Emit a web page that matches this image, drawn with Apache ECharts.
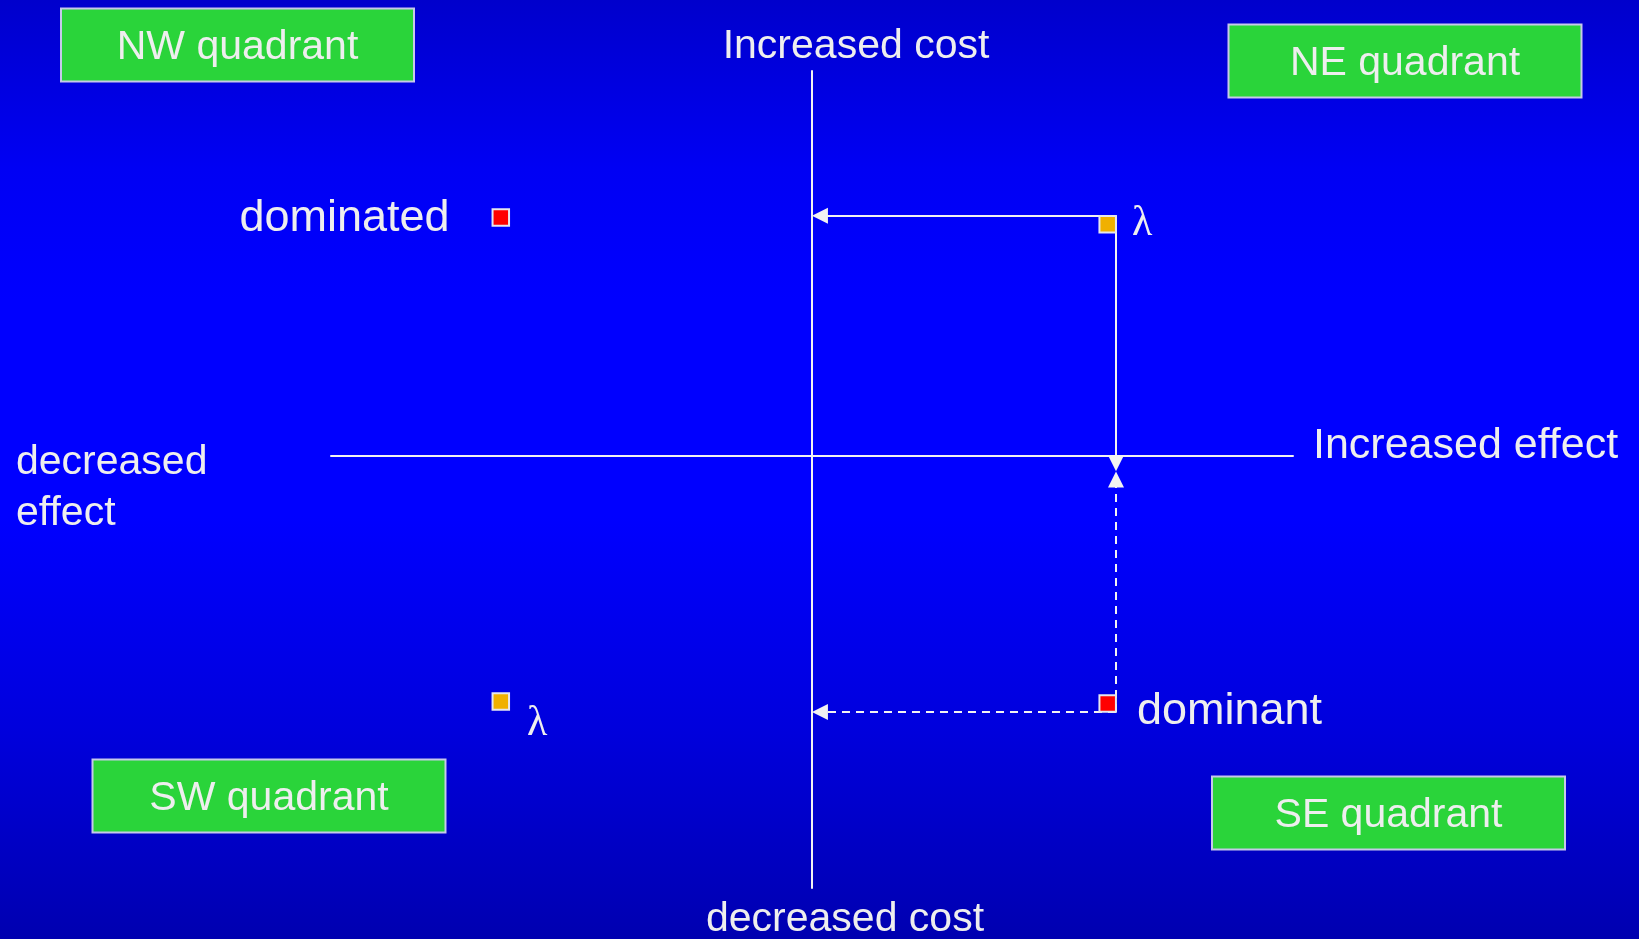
<!DOCTYPE html>
<html>
<head>
<meta charset="utf-8">
<script src="https://cdn.jsdelivr.net/npm/echarts@6/dist/echarts.min.js"></script>
<style>
  html, body { margin: 0; padding: 0; }
  #chart {
    width: 1639px; height: 939px;
    background: linear-gradient(to bottom, #0000cc 0%, #0000f4 18%, #0000ff 32%, #0000ff 55%, #0000dc 78%, #0000b0 100%);
  }
</style>
</head>
<body>
<div id="chart"></div>
<script>
// ---- data ----
const pointNames = ['dominated', 'λ', 'λ', 'dominant'];
const effectValues = [-6.47, -6.47, 6.32, 6.32];
const costValues = [4.95, -5.12, 4.99, -5.34];
// arrowhead centres
const arrowHeadEffect = [0.165, 0.165];   // horizontal arrows (NE λ, dominant) at the cost axis
const arrowHeadCost = [-0.16, -0.5];      // vertical arrows (NE λ, dominant) at the effect axis
const quadrantNames = ['NW quadrant', 'NE quadrant', 'SW quadrant', 'SE quadrant'];
const axisTexts = ['Increased cost', 'decreased cost', 'Increased effect', 'decreased\neffect'];

// ---- styles ----
const TXT = '#eeeeee';
const FONT = 'Liberation Sans, Arial, sans-serif';
const SERIF = 'Liberation Serif, Times New Roman, serif';
const pointStyles = [
  { color: '#ff0000', symbolOffset: [0, 0], label: { position: 'left', distance: 42, fontSize: 45, fontFamily: FONT, offset: [0, 1] } },
  { color: '#f0b000', symbolOffset: [0, 0], label: { position: 'right', distance: 17, fontSize: 42, fontFamily: SERIF, offset: [0, 22] } },
  { color: '#f0b000', symbolOffset: [-8.3, 8.5], label: { position: 'right', distance: 15, fontSize: 42, fontFamily: SERIF, offset: [0, 0] } },
  { color: '#ff0000', symbolOffset: [-8.3, -8.7], label: { position: 'right', distance: 20, fontSize: 45, fontFamily: FONT, offset: [0, 8] } }
];
const boxPos = [[60, 7.5], [1227.5, 23.5], [91.5, 758.5], [1211, 775.5]];
const BOX_W = 353, BOX_H = 73;

const scatterData = pointNames.map((n, i) => ({
  name: n,
  value: [effectValues[i], costValues[i]],
  symbolOffset: pointStyles[i].symbolOffset,
  itemStyle: { color: pointStyles[i].color },
  label: Object.assign({ show: true, color: TXT, formatter: '{b}' }, pointStyles[i].label)
}));

const solid = [
  { coords: [[effectValues[2], costValues[2]], [arrowHeadEffect[0], costValues[2]]] },
  { coords: [[effectValues[2], costValues[2]], [effectValues[2], arrowHeadCost[0]]] }
];
const dashed = [
  { coords: [[effectValues[3], costValues[3]], [arrowHeadEffect[1], costValues[3]]] },
  { coords: [[effectValues[3], costValues[3]], [effectValues[3], arrowHeadCost[1]]] }
];

const graphics = [];
quadrantNames.forEach((q, i) => {
  graphics.push({
    type: 'group', left: boxPos[i][0], top: boxPos[i][1],
    children: [
      { type: 'rect', shape: { x: 0, y: 0, width: BOX_W, height: BOX_H },
        style: { fill: '#2ad43a', stroke: '#c6c8ea', lineWidth: 2 } },
      { type: 'text', x: BOX_W / 2, y: BOX_H / 2 + 2.5,
        style: { text: q, align: 'center', verticalAlign: 'middle', fill: TXT, font: '41px ' + FONT } }
    ]
  });
});
const axisTextPos = [
  { x: 856, y: 47, align: 'center', size: 41 },
  { x: 845, y: 919.5, align: 'center', size: 41 },
  { x: 1313, y: 446.5, align: 'left', size: 43 },
  { x: 16, y: 488.5, align: 'left', size: 41 }
];
axisTexts.forEach((t, i) => {
  graphics.push({
    type: 'text', x: axisTextPos[i].x, y: axisTextPos[i].y,
    style: { text: t, align: axisTextPos[i].align, verticalAlign: 'middle', fill: TXT,
             font: axisTextPos[i].size + 'px ' + FONT, lineHeight: 51 }
  });
});

const chart = echarts.init(document.getElementById('chart'), null, { renderer: 'canvas' });
chart.setOption({
  backgroundColor: 'transparent',
  animation: false,
  grid: { left: 331, right: 346, top: 71, bottom: 51, containLabel: false },
  xAxis: {
    type: 'value', min: -10, max: 10,
    axisLine: { show: true, onZero: true, lineStyle: { color: '#f2f2f2', width: 2 } },
    axisTick: { show: false }, axisLabel: { show: false }, splitLine: { show: false }
  },
  yAxis: {
    type: 'value', min: -9, max: 8,
    axisLine: { show: true, onZero: true, lineStyle: { color: '#f2f2f2', width: 2 } },
    axisTick: { show: false }, axisLabel: { show: false }, splitLine: { show: false }
  },
  graphic: graphics,
  series: [
    {
      type: 'lines', coordinateSystem: 'cartesian2d', z: 3,
      symbol: ['none', 'triangle'], symbolSize: 16,
      lineStyle: { color: '#f2f2f2', width: 2, type: 'solid', opacity: 1 },
      data: solid
    },
    {
      type: 'lines', coordinateSystem: 'cartesian2d', z: 3,
      symbol: ['none', 'triangle'], symbolSize: 16,
      lineStyle: { color: '#f2f2f2', width: 2, type: [8, 6], opacity: 1 },
      data: dashed
    },
    {
      type: 'scatter', z: 4,
      symbol: 'rect', symbolSize: 16.5,
      itemStyle: { borderColor: '#e6e6ee', borderWidth: 2, opacity: 1 },
      data: scatterData
    }
  ]
});
</script>
</body>
</html>
